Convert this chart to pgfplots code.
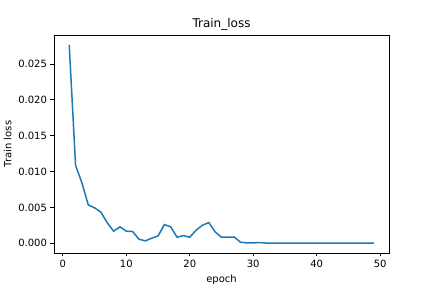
\documentclass[border=0pt]{standalone}
\usepackage{fontspec}
\setmainfont{DejaVu Sans}
\usepackage{pgfplots}
\pgfplotsset{compat=1.18}
\definecolor{mplblue}{HTML}{1F77B4}
\begin{document}
\begin{tikzpicture}
\path[use as bounding box] (-54pt,-35pt) rectangle (378pt,253pt);
\begin{axis}[
  at={(0,0)}, anchor=south west,
  scale only axis, width=335pt, height=218pt,
  xmin=-1.4, xmax=51.4, ymin=-0.00136, ymax=0.02903,
  xtick={0,10,20,30,40,50},
  ytick={0,0.005,0.010,0.015,0.020,0.025},
  scaled y ticks=false,
  yticklabel style={/pgf/number format/.cd, fixed, fixed zerofill, precision=3},
  /pgf/number format/assume math mode=true,
  tick label style={font=\fontsize{10}{12}\selectfont},
  label style={font=\fontsize{10}{12}\selectfont},
  tick align=outside, major tick length=3.5pt,
  xtick pos=bottom, ytick pos=left,
  axis line style={line width=0.8pt},
  every tick/.style={black, line width=0.8pt},
  title={Train\_loss},
  title style={font=\fontsize{12}{14}\selectfont, anchor=south, at={(0.5,1)}, yshift=-5pt},
  xlabel={epoch}, ylabel={Train loss},
]
\addplot[mplblue, line width=1.5pt, no markers] coordinates {
(1,0.02765) (2,0.01085) (3,0.00842) (4,0.00535) (5,0.00493) (6,0.00433)
(7,0.00284) (8,0.00168) (9,0.00228) (10,0.00168) (11,0.00163) (12,0.00056)
(13,0.00033) (14,0.00070) (15,0.00102) (16,0.00260) (17,0.00228) (18,0.00084)
(19,0.00107) (20,0.00084) (21,0.00182) (22,0.00251) (23,0.00289) (24,0.00158)
(25,0.00084) (26,0.00084) (27,0.00087) (28,0.00014) (29,0.00005) (30,0.00004)
(31,0.00010) (32,0.00003) (33,0.00002) (34,0.00002) (35,0.00002) (36,0.00002)
(37,0.00002) (38,0.00002) (39,0.00002) (40,0.00002) (41,0.00002) (42,0.00002)
(43,0.00002) (44,0.00002) (45,0.00002) (46,0.00002) (47,0.00002) (48,0.00002)
(49,0.00002)
};
\end{axis}
\end{tikzpicture}
\end{document}
